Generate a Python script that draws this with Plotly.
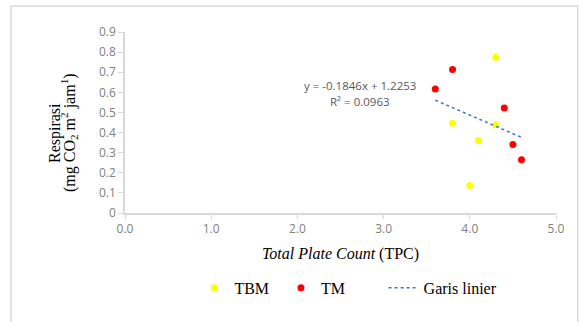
import plotly.graph_objects as go

# Data
tbm_x = [4.3, 3.8, 4.3, 4.1, 4.0]
tbm_y = [0.774, 0.446, 0.439, 0.361, 0.137]
tm_x = [3.8, 3.6, 4.4, 4.5, 4.6]
tm_y = [0.713, 0.617, 0.522, 0.340, 0.265]
slope, intercept = -0.1846, 1.2253
trend_x = [3.6, 4.6]
trend_y = [slope * v + intercept for v in trend_x]
x_ticks = [0, 1, 2, 3, 4, 5]
x_ticktext = ["0.0", "1.0", "2.0", "3.0", "4.0", "5.0"]
y_ticks = [0, 0.1, 0.2, 0.3, 0.4, 0.5, 0.6, 0.7, 0.8, 0.9]
y_ticktext = ["0", "0.1", "0.2", "0.3", "0.4", "0.5", "0.6", "0.7", "0.8", "0.9"]

serif = "Liberation Serif, Times New Roman, serif"
sans = "Liberation Sans Narrow, Open Sans, sans-serif"
grey_axis = "#d9d9d9"
tick_col = "#808080"

fig = go.Figure()
fig.add_trace(go.Scatter(x=tbm_x, y=tbm_y, mode="markers", name="TBM", legend="legend",
                         marker=dict(color="#ffff00", size=7)))
fig.add_trace(go.Scatter(x=tm_x, y=tm_y, mode="markers", name="TM", legend="legend2",
                         marker=dict(color="#ff0000", size=7)))
fig.add_trace(go.Scatter(x=trend_x, y=trend_y, mode="lines", name="Garis linier", legend="legend3",
                         line=dict(color="#4472c4", width=1.5, dash="dot")))

# trendline equation
fig.add_annotation(x=2.73, y=0.633, xref="x", yref="y",
                   text="y = -0.1846x + 1.2253",
                   showarrow=False, font=dict(family=sans, size=11.5, color="#595959"))
fig.add_annotation(x=2.73, y=0.555, xref="x", yref="y",
                   text="R² = 0.0963",
                   showarrow=False, font=dict(family=sans, size=11.5, color="#595959"))

# y-axis title (two tightly spaced rotated lines)
fig.add_annotation(x=-0.1624, y=0.442, xref="paper", yref="paper", textangle=-90,
                   xanchor="center", yanchor="middle",
                   text="Respirasi", showarrow=False,
                   font=dict(family=serif, size=16, color="#000000"))
fig.add_annotation(x=-0.1299, y=0.442, xref="paper", yref="paper", textangle=-90,
                   xanchor="center", yanchor="middle",
                   text="(mg CO<sub>2</sub> m<sup>2</sup> jam<sup>1</sup>)", showarrow=False,
                   font=dict(family=serif, size=16, color="#000000"))

# outer border of the chart area
fig.add_shape(type="rect", xref="paper", yref="paper",
              x0=-0.2645, x1=1.0505, y0=-0.65, y1=1.1436,
              line=dict(color=grey_axis, width=1.5), fillcolor="rgba(0,0,0,0)", layer="below")

leg_common = dict(orientation="h", yanchor="middle", y=-0.414, xanchor="left",
                  font=dict(family=serif, size=16, color="#000000"),
                  bgcolor="rgba(0,0,0,0)", borderwidth=0)

fig.update_layout(
    width=579, height=322,
    margin=dict(l=125, r=23, t=32, b=109),
    paper_bgcolor="white", plot_bgcolor="white",
    showlegend=True,
    legend=dict(x=0.161, **leg_common),
    legend2=dict(x=0.362, **leg_common),
    legend3=dict(x=0.600, **leg_common),
    xaxis=dict(range=[0, 5], tickvals=x_ticks, ticktext=x_ticktext,
               showgrid=False, zeroline=False, showline=True, linecolor=grey_axis, linewidth=1.5,
               ticks="outside", ticklen=4, tickcolor=grey_axis,
               tickfont=dict(family=sans, size=12, color=tick_col),
               title=dict(text="<i>Total Plate Count</i> (TPC)", standoff=12,
                          font=dict(family=serif, size=16, color="#000000"))),
    yaxis=dict(range=[0, 0.9], tickvals=y_ticks, ticktext=y_ticktext,
               showgrid=False, zeroline=False, showline=True, linecolor=grey_axis, linewidth=1.5,
               ticks="outside", ticklen=5, tickcolor=grey_axis,
               tickfont=dict(family=sans, size=12, color=tick_col)),
)

fig.write_html("out.html", config={"displayModeBar": False},
               post_script="document.body.style.margin='0';")
